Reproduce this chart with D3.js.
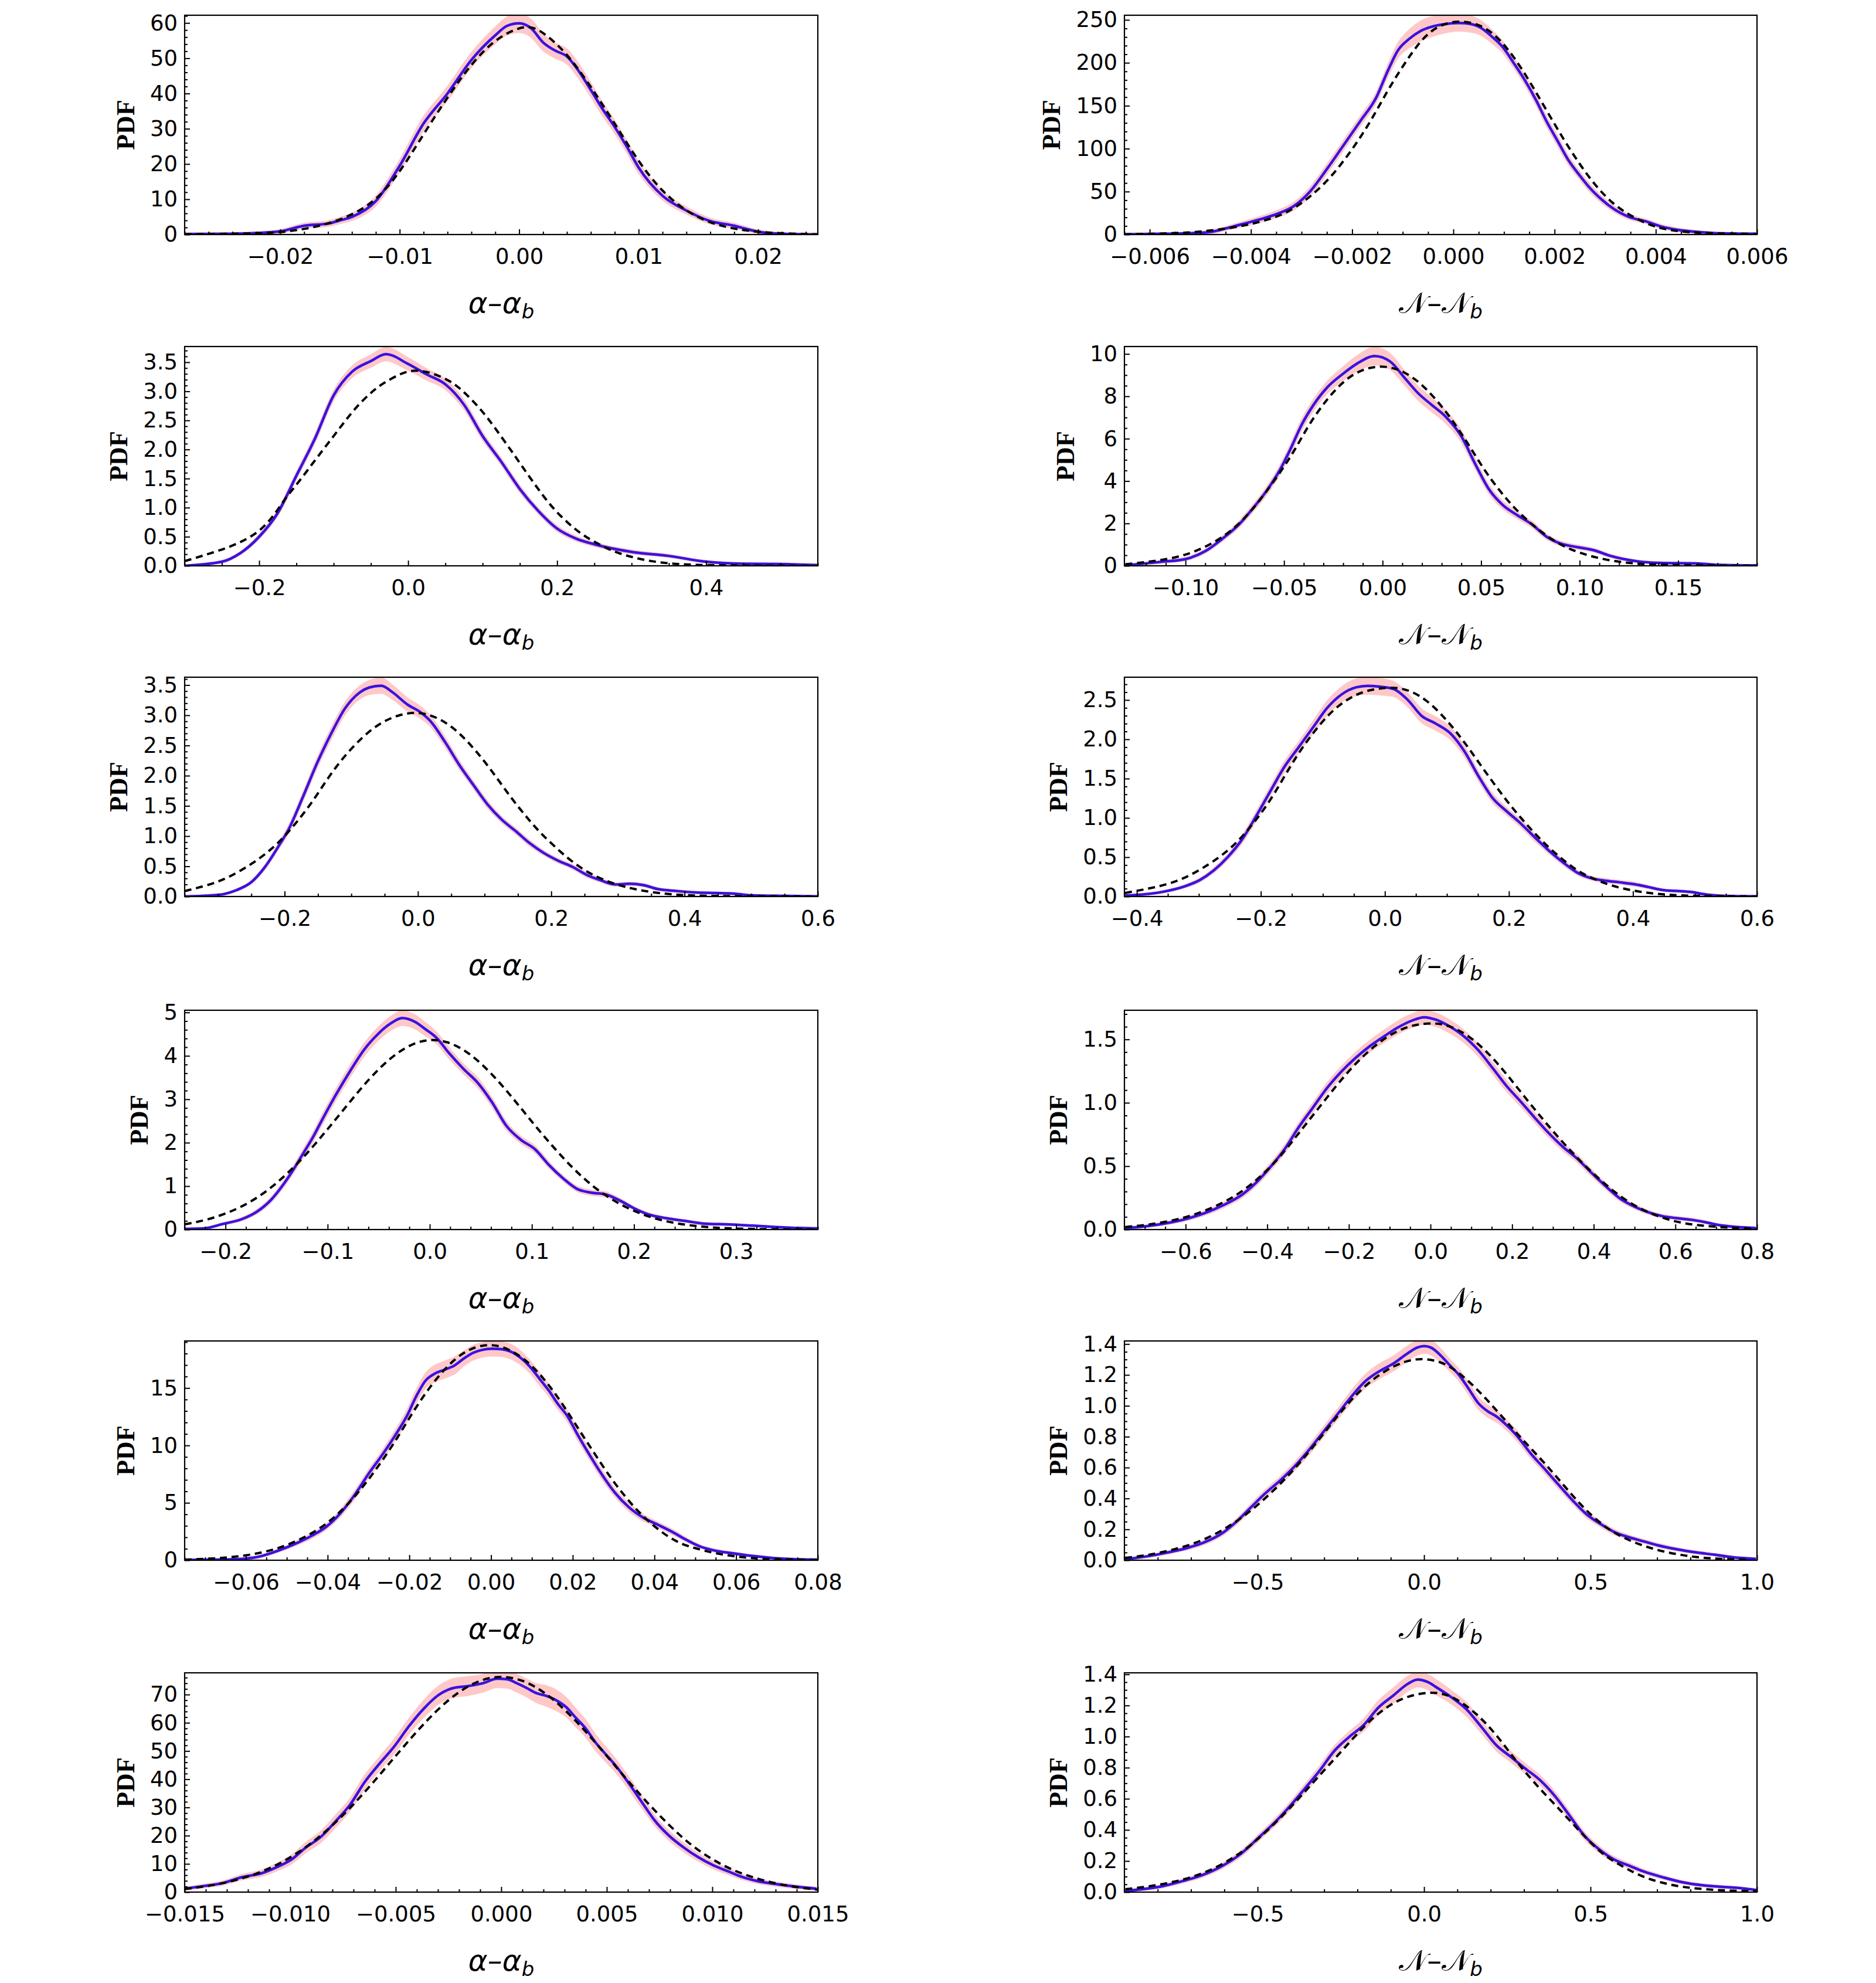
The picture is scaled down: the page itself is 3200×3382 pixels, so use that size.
<!DOCTYPE html>
<html><head><meta charset="utf-8">
<script src="https://cdn.jsdelivr.net/npm/d3@7"></script>
<style>body{margin:0;background:#fff}</style>
</head><body>
<svg id="chart" width="3200" height="3382" xmlns="http://www.w3.org/2000/svg"></svg>
<script>
// ---------- DATA: [x, pdf, band half-width] for KDE; [x, value] for dashed Gaussian ----------
const pdf1L=[[-0.028,0.1,0.3],[-0.024,0.2,0.3],[-0.022,0.4,0.3],[-0.020,0.9,0.4],[-0.018,2.5,0.6],[-0.016,3.1,0.7],[-0.015,4.0,0.8],[-0.014,5.0,0.9],[-0.012,9.5,1.2],[-0.010,19.5,1.5],[-0.008,31.5,1.8],[-0.006,40,1.8],[-0.004,49.5,1.9],[-0.002,56.5,2.2],[-0.001,59.2,2.4],[0,59.9,2.5],[0.001,58.5,2.4],[0.002,54.5,2.2],[0.003,52.2,2.0],[0.004,50.5,2.0],[0.005,46.3,1.9],[0.006,41,1.8],[0.007,35.5,1.7],[0.008,30.5,1.6],[0.009,25,1.5],[0.010,19,1.4],[0.012,11,1.1],[0.014,6.8,0.9],[0.016,3.8,0.7],[0.018,2.5,0.6],[0.019,1.6,0.5],[0.020,0.8,0.4],[0.022,0.2,0.3],[0.025,0,0.3]];
const gauss1L=[[-0.028,0.05],[-0.022,0.3],[-0.020,0.6],[-0.018,1.5],[-0.016,3.0],[-0.014,5.5],[-0.012,9.5],[-0.010,17.5],[-0.008,28.5],[-0.006,39],[-0.004,48.5],[-0.002,55.5],[0,58.8],[0.001,59],[0.002,57.5],[0.004,51.5],[0.006,42],[0.008,31.5],[0.010,20.5],[0.012,12],[0.014,6.5],[0.016,3.2],[0.018,1.6],[0.020,0.7],[0.022,0.3],[0.025,0.05]];

const pdf1R=[[-0.0065,0.25,1],[-0.00575,0.8,1],[-0.0052,1.5,1],[-0.00477,3.3,1.5],[-0.00445,7.8,2],[-0.00412,12.9,2.5],[-0.0038,18,3],[-0.00347,24.3,3.5],[-0.00315,33.2,4],[-0.00282,50.9,4.5],[-0.0025,76.2,5],[-0.00217,104,5],[-0.00184,132,5],[-0.00152,160,5],[-0.0013,190,6],[-0.00109,215,8],[-0.00087,228,10],[-0.00065,237,11],[-0.00043,242,11],[-0.00022,244.6,10],[0.00011,246.3,9],[0.00033,245.3,9],[0.00054,240.8,8],[0.00076,230.6,7],[0.00098,218,6],[0.00119,200,5],[0.00141,180,5],[0.00163,157,5],[0.00184,132,5],[0.00206,109,5],[0.00228,86,4.5],[0.0025,68.6,4],[0.00271,53.4,4],[0.00293,40.8,3.5],[0.00315,30.6,3],[0.00347,20.5,2.5],[0.0038,15.4,2],[0.00412,9.1,2],[0.00445,5.3,1.5],[0.00488,2.8,1],[0.00532,1.3,1],[0.006,0.8,1]];
const gauss1R=[[-0.0065,0.25],[-0.00575,1],[-0.0052,2.3],[-0.00467,5.3],[-0.00412,10.4],[-0.00369,16.7],[-0.00326,25.6],[-0.00282,44],[-0.00239,68],[-0.00195,103],[-0.00163,132],[-0.0013,168],[-0.00098,198],[-0.00065,226],[-0.00033,243],[0.00011,250],[0.00054,244.6],[0.00087,230.6],[0.00119,207.8],[0.00152,177.5],[0.00184,144.6],[0.00217,111.6],[0.0025,81.3],[0.00282,55.9],[0.00315,35.7],[0.00347,23],[0.0038,12.9],[0.00412,6.6],[0.00456,2.8],[0.0051,1.3],[0.006,0.5]];

const pdf2L=[[-0.30,0,0.01],[-0.25,0.07,0.015],[-0.225,0.22,0.02],[-0.20,0.5,0.03],[-0.175,0.91,0.04],[-0.15,1.55,0.05],[-0.125,2.19,0.06],[-0.10,2.93,0.07],[-0.075,3.34,0.09],[-0.05,3.52,0.1],[-0.03,3.64,0.11],[0.0,3.47,0.1],[0.025,3.29,0.09],[0.05,3.12,0.08],[0.075,2.77,0.07],[0.10,2.23,0.06],[0.125,1.79,0.05],[0.15,1.32,0.05],[0.175,0.94,0.04],[0.20,0.64,0.04],[0.225,0.47,0.035],[0.25,0.37,0.03],[0.30,0.24,0.025],[0.35,0.17,0.02],[0.40,0.07,0.015],[0.45,0.035,0.01],[0.50,0.03,0.01],[0.55,0.01,0.01]];
const gauss2L=[[-0.30,0.08],[-0.256,0.25],[-0.224,0.40],[-0.196,0.62],[-0.177,0.92],[-0.164,1.18],[-0.148,1.42],[-0.126,1.80],[-0.103,2.18],[-0.084,2.50],[-0.069,2.74],[-0.050,2.98],[-0.034,3.14],[-0.008,3.32],[0.008,3.37],[0.030,3.33],[0.055,3.19],[0.068,3.07],[0.087,2.84],[0.106,2.56],[0.125,2.22],[0.144,1.88],[0.160,1.58],[0.179,1.24],[0.195,0.98],[0.214,0.74],[0.233,0.54],[0.249,0.42],[0.268,0.29],[0.284,0.21],[0.303,0.14],[0.325,0.08],[0.347,0.045],[0.373,0.02],[0.42,0.005],[0.55,0]];

const pdf2R=[[-0.131,0.02,0.02],[-0.112,0.19,0.05],[-0.100,0.32,0.06],[-0.090,0.69,0.08],[-0.081,1.3,0.1],[-0.073,1.94,0.12],[-0.066,2.69,0.14],[-0.059,3.52,0.16],[-0.052,4.54,0.18],[-0.047,5.46,0.2],[-0.041,6.67,0.22],[-0.035,7.6,0.24],[-0.028,8.43,0.26],[-0.020,9.07,0.3],[-0.013,9.54,0.35],[-0.004,9.9,0.4],[0.004,9.63,0.35],[0.011,8.89,0.3],[0.018,8.15,0.3],[0.025,7.59,0.3],[0.032,7.04,0.28],[0.040,6.11,0.24],[0.047,4.81,0.2],[0.054,3.61,0.18],[0.061,2.87,0.16],[0.068,2.41,0.14],[0.076,1.94,0.12],[0.083,1.39,0.1],[0.090,1.06,0.09],[0.099,0.88,0.08],[0.107,0.74,0.07],[0.116,0.46,0.06],[0.128,0.23,0.04],[0.140,0.14,0.03],[0.160,0.11,0.03],[0.169,0.05,0.02],[0.190,0.02,0.02]];
const gauss2R=[[-0.1305,0.07],[-0.1118,0.26],[-0.0998,0.5],[-0.0877,0.97],[-0.0757,1.68],[-0.0637,2.88],[-0.0517,4.44],[-0.0445,5.46],[-0.0373,6.7],[-0.0276,7.96],[-0.018,8.89],[-0.0084,9.35],[0.0012,9.45],[0.0108,9.2],[0.0204,8.55],[0.030,7.55],[0.0373,6.62],[0.0445,5.6],[0.0517,4.5],[0.0589,3.6],[0.0661,2.8],[0.0733,2.15],[0.0805,1.6],[0.0877,1.13],[0.095,0.78],[0.1046,0.47],[0.1166,0.22],[0.1286,0.1],[0.1406,0.04],[0.19,0]];

const pdf3L=[[-0.350,0,0.01],[-0.300,0.026,0.01],[-0.272,0.107,0.015],[-0.250,0.237,0.02],[-0.229,0.496,0.03],[-0.208,0.853,0.04],[-0.194,1.112,0.05],[-0.172,1.664,0.06],[-0.151,2.216,0.07],[-0.130,2.70,0.08],[-0.109,3.12,0.09],[-0.087,3.38,0.1],[-0.073,3.46,0.11],[-0.055,3.49,0.12],[-0.038,3.38,0.11],[-0.016,3.18,0.1],[0.005,3.04,0.09],[0.019,2.90,0.08],[0.040,2.57,0.07],[0.062,2.18,0.06],[0.083,1.85,0.05],[0.104,1.53,0.05],[0.126,1.27,0.04],[0.147,1.08,0.04],[0.168,0.88,0.04],[0.189,0.72,0.03],[0.211,0.59,0.03],[0.232,0.49,0.03],[0.253,0.36,0.03],[0.274,0.27,0.025],[0.296,0.20,0.02],[0.317,0.21,0.02],[0.338,0.19,0.02],[0.360,0.123,0.015],[0.388,0.091,0.015],[0.416,0.068,0.01],[0.445,0.058,0.01],[0.473,0.049,0.01],[0.501,0.02,0.01],[0.551,0.01,0.01],[0.599,0.003,0.01]];
const gauss3L=[[-0.350,0.09],[-0.314,0.19],[-0.286,0.30],[-0.250,0.53],[-0.222,0.76],[-0.201,0.98],[-0.179,1.27],[-0.158,1.57],[-0.137,1.93],[-0.116,2.25],[-0.094,2.52],[-0.073,2.74],[-0.052,2.90],[-0.030,3.0],[-0.009,3.05],[0.012,3.03],[0.033,2.94],[0.055,2.78],[0.076,2.55],[0.097,2.28],[0.118,1.97],[0.140,1.63],[0.161,1.34],[0.182,1.07],[0.204,0.84],[0.225,0.63],[0.246,0.46],[0.267,0.33],[0.289,0.23],[0.310,0.16],[0.338,0.09],[0.374,0.04],[0.402,0.02],[0.445,0.006],[0.6,0]];

const pdf3R=[[-0.419,0.012,0.01],[-0.360,0.057,0.01],[-0.322,0.132,0.015],[-0.299,0.207,0.02],[-0.276,0.332,0.025],[-0.253,0.506,0.03],[-0.230,0.73,0.04],[-0.207,1.03,0.05],[-0.184,1.35,0.05],[-0.162,1.65,0.06],[-0.139,1.90,0.06],[-0.116,2.15,0.07],[-0.093,2.40,0.08],[-0.070,2.57,0.09],[-0.047,2.66,0.1],[-0.028,2.68,0.1],[-0.009,2.67,0.1],[0.014,2.64,0.09],[0.037,2.50,0.08],[0.059,2.30,0.08],[0.082,2.20,0.08],[0.105,2.08,0.07],[0.128,1.85,0.06],[0.151,1.53,0.05],[0.174,1.25,0.05],[0.197,1.08,0.04],[0.219,0.93,0.04],[0.242,0.75,0.04],[0.265,0.58,0.03],[0.288,0.43,0.03],[0.311,0.30,0.025],[0.334,0.23,0.02],[0.357,0.20,0.02],[0.379,0.18,0.02],[0.402,0.157,0.02],[0.425,0.12,0.015],[0.448,0.082,0.01],[0.471,0.07,0.01],[0.494,0.057,0.01],[0.517,0.027,0.01],[0.547,0.007,0.01],[0.599,0.002,0.01]];
const gauss3R=[[-0.419,0.045],[-0.360,0.13],[-0.322,0.23],[-0.283,0.41],[-0.253,0.58],[-0.230,0.76],[-0.207,0.98],[-0.184,1.23],[-0.162,1.53],[-0.139,1.83],[-0.116,2.08],[-0.093,2.30],[-0.070,2.46],[-0.047,2.57],[-0.024,2.63],[-0.002,2.655],[0.021,2.66],[0.044,2.61],[0.067,2.50],[0.090,2.33],[0.113,2.12],[0.136,1.88],[0.158,1.63],[0.181,1.38],[0.204,1.14],[0.227,0.93],[0.250,0.73],[0.273,0.56],[0.296,0.41],[0.318,0.29],[0.341,0.21],[0.364,0.14],[0.395,0.08],[0.425,0.045],[0.456,0.02],[0.501,0.007],[0.6,0]];

const pdf4L=[[-0.240,0.014,0.01],[-0.221,0.027,0.01],[-0.203,0.127,0.02],[-0.184,0.24,0.03],[-0.170,0.40,0.04],[-0.156,0.67,0.05],[-0.143,1.05,0.06],[-0.133,1.4,0.07],[-0.124,1.75,0.08],[-0.115,2.1,0.09],[-0.106,2.5,0.1],[-0.092,3.1,0.11],[-0.078,3.65,0.12],[-0.064,4.15,0.13],[-0.050,4.52,0.14],[-0.038,4.75,0.15],[-0.027,4.87,0.16],[-0.015,4.79,0.15],[-0.004,4.61,0.14],[0.006,4.43,0.12],[0.019,4.06,0.11],[0.033,3.70,0.1],[0.047,3.38,0.1],[0.061,2.93,0.09],[0.075,2.39,0.08],[0.089,2.07,0.07],[0.103,1.85,0.07],[0.117,1.48,0.06],[0.131,1.17,0.05],[0.144,0.94,0.05],[0.158,0.85,0.05],[0.172,0.81,0.05],[0.186,0.67,0.04],[0.200,0.49,0.03],[0.214,0.35,0.03],[0.232,0.26,0.02],[0.251,0.195,0.02],[0.269,0.136,0.02],[0.293,0.118,0.015],[0.316,0.09,0.01],[0.339,0.059,0.01],[0.362,0.036,0.01],[0.380,0.027,0.01]];
const gauss4L=[[-0.24,0.12],[-0.22,0.21],[-0.20,0.36],[-0.18,0.57],[-0.16,0.87],[-0.14,1.27],[-0.12,1.75],[-0.10,2.31],[-0.08,2.89],[-0.06,3.46],[-0.04,3.93],[-0.02,4.26],[0.0,4.40],[0.02,4.32],[0.04,4.05],[0.06,3.61],[0.08,3.07],[0.10,2.48],[0.12,1.92],[0.14,1.41],[0.16,0.98],[0.18,0.66],[0.20,0.42],[0.22,0.25],[0.24,0.145],[0.26,0.08],[0.28,0.04],[0.30,0.02],[0.34,0.004],[0.38,0.001]];

const pdf4R=[[-0.748,0.012,0.005],[-0.692,0.028,0.007],[-0.646,0.051,0.01],[-0.600,0.083,0.012],[-0.554,0.129,0.015],[-0.508,0.192,0.018],[-0.461,0.277,0.02],[-0.427,0.371,0.022],[-0.392,0.495,0.025],[-0.357,0.636,0.027],[-0.323,0.807,0.03],[-0.288,0.963,0.032],[-0.253,1.119,0.035],[-0.219,1.244,0.037],[-0.184,1.353,0.04],[-0.149,1.446,0.042],[-0.114,1.524,0.045],[-0.080,1.594,0.048],[-0.045,1.649,0.05],[-0.016,1.675,0.052],[0.013,1.656,0.05],[0.047,1.602,0.048],[0.082,1.524,0.045],[0.117,1.415,0.042],[0.152,1.275,0.04],[0.186,1.134,0.037],[0.221,1.010,0.035],[0.255,0.884,0.032],[0.290,0.760,0.03],[0.325,0.651,0.028],[0.360,0.558,0.025],[0.394,0.449,0.022],[0.429,0.343,0.02],[0.464,0.246,0.018],[0.498,0.184,0.015],[0.533,0.137,0.012],[0.568,0.106,0.01],[0.603,0.090,0.01],[0.637,0.078,0.01],[0.672,0.059,0.008],[0.706,0.036,0.006],[0.753,0.020,0.005],[0.797,0.012,0.005]];
const gauss4R=[[-0.748,0.02],[-0.692,0.036],[-0.623,0.075],[-0.565,0.13],[-0.508,0.21],[-0.461,0.30],[-0.415,0.42],[-0.369,0.57],[-0.323,0.76],[-0.276,0.95],[-0.230,1.14],[-0.184,1.31],[-0.138,1.45],[-0.091,1.555],[-0.045,1.615],[0.007,1.633],[0.047,1.61],[0.094,1.53],[0.140,1.40],[0.186,1.23],[0.232,1.04],[0.279,0.855],[0.325,0.683],[0.371,0.527],[0.417,0.386],[0.464,0.262],[0.510,0.168],[0.556,0.106],[0.602,0.059],[0.649,0.036],[0.706,0.02],[0.764,0.009],[0.8,0.005]];

const pdf5L=[[-0.0750,0.03,0.05],[-0.0669,0.05,0.05],[-0.0611,0.12,0.06],[-0.0565,0.34,0.08],[-0.0519,0.86,0.1],[-0.0472,1.55,0.15],[-0.0438,2.15,0.2],[-0.0403,2.93,0.2],[-0.0368,4.13,0.25],[-0.0334,5.68,0.3],[-0.0299,7.57,0.3],[-0.0264,9.29,0.35],[-0.0229,11.19,0.4],[-0.0206,12.56,0.45],[-0.0183,14.29,0.5],[-0.0160,15.66,0.6],[-0.0137,16.27,0.7],[-0.0113,16.61,0.7],[-0.0090,16.95,0.7],[-0.0067,17.56,0.6],[-0.0044,18.07,0.6],[-0.0021,18.33,0.6],[0.0002,18.42,0.6],[0.0025,18.38,0.6],[0.0049,18.16,0.6],[0.0072,17.64,0.55],[0.0095,16.87,0.5],[0.0118,15.84,0.5],[0.0141,14.80,0.45],[0.0164,13.60,0.4],[0.0188,12.5,0.4],[0.0211,11.0,0.4],[0.0234,9.6,0.35],[0.0269,7.6,0.35],[0.0303,5.9,0.3],[0.0338,4.6,0.3],[0.0373,3.7,0.25],[0.0408,3.1,0.2],[0.0442,2.5,0.2],[0.0477,1.8,0.15],[0.0512,1.2,0.1],[0.0547,0.85,0.1],[0.0593,0.60,0.08],[0.0639,0.38,0.06],[0.0686,0.21,0.05],[0.0744,0.09,0.05],[0.0799,0.05,0.05]];
const gauss5L=[[-0.0750,0.05],[-0.0681,0.14],[-0.0623,0.3],[-0.0565,0.62],[-0.0519,1.05],[-0.0472,1.72],[-0.0426,2.58],[-0.0380,3.79],[-0.0334,5.51],[-0.0299,7.06],[-0.0264,8.78],[-0.0229,10.67],[-0.0195,12.7],[-0.0160,14.6],[-0.0125,16.2],[-0.0090,17.5],[-0.0056,18.35],[-0.0021,18.75],[0.0014,18.75],[0.0049,18.3],[0.0083,17.5],[0.0118,16.3],[0.0153,14.75],[0.0188,12.9],[0.0222,11.0],[0.0257,9.1],[0.0292,7.2],[0.0327,5.6],[0.0361,4.2],[0.0396,3.05],[0.0431,2.1],[0.0466,1.4],[0.0500,1.05],[0.0547,0.6],[0.0605,0.28],[0.0662,0.12],[0.0732,0.05],[0.08,0.02]];

const pdf5R=[[-0.898,0.006,0.005],[-0.830,0.026,0.006],[-0.773,0.049,0.008],[-0.716,0.077,0.01],[-0.660,0.116,0.012],[-0.603,0.180,0.014],[-0.560,0.257,0.016],[-0.518,0.347,0.018],[-0.475,0.437,0.02],[-0.433,0.515,0.022],[-0.390,0.605,0.024],[-0.348,0.708,0.026],[-0.305,0.824,0.028],[-0.262,0.940,0.03],[-0.220,1.055,0.035],[-0.177,1.158,0.04],[-0.135,1.223,0.045],[-0.092,1.274,0.045],[-0.050,1.339,0.045],[-0.021,1.377,0.045],[0.000,1.387,0.045],[0.021,1.377,0.045],[0.050,1.326,0.04],[0.078,1.261,0.035],[0.106,1.197,0.035],[0.135,1.107,0.035],[0.163,1.017,0.035],[0.191,0.965,0.035],[0.220,0.927,0.032],[0.248,0.875,0.03],[0.277,0.811,0.028],[0.319,0.695,0.026],[0.362,0.592,0.024],[0.404,0.489,0.022],[0.447,0.386,0.02],[0.489,0.296,0.018],[0.532,0.232,0.016],[0.574,0.180,0.014],[0.617,0.148,0.012],[0.660,0.122,0.01],[0.702,0.097,0.01],[0.759,0.071,0.008],[0.816,0.051,0.007],[0.872,0.036,0.006],[0.929,0.019,0.005],[0.997,0.009,0.005]];
const gauss5R=[[-0.898,0.015],[-0.830,0.032],[-0.745,0.071],[-0.660,0.129],[-0.574,0.232],[-0.504,0.347],[-0.433,0.489],[-0.362,0.656],[-0.291,0.849],[-0.234,1.004],[-0.177,1.133],[-0.121,1.223],[-0.064,1.287],[-0.007,1.310],[0.050,1.287],[0.092,1.236],[0.135,1.158],[0.177,1.068],[0.220,0.965],[0.262,0.862],[0.305,0.759],[0.362,0.631],[0.418,0.489],[0.475,0.347],[0.532,0.232],[0.589,0.154],[0.645,0.103],[0.702,0.064],[0.759,0.039],[0.816,0.019],[0.887,0.009],[0.972,0.003]];

const pdf6L=[[-0.01502,1.2,0.4],[-0.01414,2.1,0.5],[-0.01321,3.2,0.6],[-0.01228,5.3,0.8],[-0.01135,6.7,1.0],[-0.01065,8.8,1.2],[-0.00995,11.5,1.4],[-0.00926,15.8,1.6],[-0.00856,19.5,1.8],[-0.00786,25,2],[-0.00716,31,2],[-0.00647,39,2.2],[-0.00577,45.5,2.2],[-0.00507,51.6,2.4],[-0.00437,58.8,2.5],[-0.00367,65,2.8],[-0.00298,69.8,3],[-0.00228,72.3,3.2],[-0.00158,73,3.2],[-0.00088,74,3],[-0.00019,75.6,3],[0.00028,75.4,3],[0.00074,74,3],[0.00121,72.3,3],[0.00167,70.5,3.2],[0.00214,69.5,3.5],[0.0026,68,3.5],[0.00307,65.6,3.2],[0.00353,61.8,3],[0.004,58,2.8],[0.00447,53,2.6],[0.00493,49,2.4],[0.0054,45,2.2],[0.00586,40.5,2],[0.00633,35.5,2],[0.00679,30.5,1.8],[0.00726,25.5,1.6],[0.00795,20,1.5],[0.00865,15.8,1.4],[0.00935,12.3,1.2],[0.01005,9.5,1.1],[0.01074,7.4,1],[0.01144,5.3,0.8],[0.01214,3.9,0.7],[0.01307,2.8,0.6],[0.014,1.9,0.5],[0.01493,1.2,0.4]];
const gauss6L=[[-0.015,1.1],[-0.014,2.0],[-0.013,3.4],[-0.012,5.4],[-0.011,8.2],[-0.010,12.1],[-0.009,17.2],[-0.008,23.5],[-0.007,31.0],[-0.006,39.4],[-0.005,48.3],[-0.004,57.0],[-0.003,64.9],[-0.002,71.2],[-0.001,75.3],[0,76.7],[0.001,75.3],[0.002,71.2],[0.003,64.9],[0.004,57.0],[0.005,48.3],[0.006,39.4],[0.007,31.0],[0.008,23.3],[0.009,16.5],[0.010,11.5],[0.011,7.6],[0.012,5.0],[0.013,3.0],[0.014,1.7],[0.015,0.9]];

const pdf6R=[[-0.897,0.009,0.005],[-0.845,0.019,0.006],[-0.786,0.038,0.008],[-0.727,0.070,0.01],[-0.668,0.108,0.012],[-0.609,0.165,0.014],[-0.550,0.247,0.016],[-0.491,0.362,0.018],[-0.447,0.451,0.02],[-0.403,0.552,0.022],[-0.358,0.666,0.024],[-0.314,0.780,0.026],[-0.270,0.907,0.028],[-0.226,0.996,0.03],[-0.181,1.075,0.035],[-0.137,1.187,0.04],[-0.093,1.263,0.045],[-0.049,1.339,0.045],[-0.019,1.367,0.045],[0.010,1.352,0.045],[0.040,1.313,0.045],[0.084,1.250,0.04],[0.128,1.174,0.04],[0.173,1.060,0.035],[0.217,0.945,0.032],[0.261,0.869,0.03],[0.305,0.793,0.028],[0.350,0.717,0.026],[0.394,0.615,0.024],[0.438,0.489,0.022],[0.482,0.362,0.02],[0.527,0.273,0.018],[0.571,0.209,0.016],[0.615,0.171,0.014],[0.659,0.133,0.012],[0.718,0.095,0.01],[0.777,0.063,0.008],[0.836,0.044,0.007],[0.895,0.034,0.006],[0.954,0.025,0.005],[0.998,0.013,0.005]];
const gauss6R=[[-0.897,0.019],[-0.816,0.038],[-0.727,0.076],[-0.653,0.127],[-0.580,0.209],[-0.521,0.298],[-0.462,0.412],[-0.403,0.539],[-0.344,0.679],[-0.285,0.819],[-0.226,0.958],[-0.167,1.098],[-0.108,1.199],[-0.049,1.263],[0.025,1.291],[0.084,1.263],[0.143,1.174],[0.187,1.085],[0.232,0.971],[0.276,0.844],[0.320,0.730],[0.364,0.628],[0.409,0.527],[0.453,0.425],[0.497,0.324],[0.541,0.235],[0.600,0.159],[0.659,0.095],[0.718,0.057],[0.777,0.032],[0.851,0.016],[0.925,0.009],[0.999,0.006]];

// ---------- tick values ----------
const xt1L=[-0.02,-0.01,0,0.01,0.02], yt1L=[0,10,20,30,40,50,60];
const xt1R=[-0.006,-0.004,-0.002,0,0.002,0.004,0.006], yt1R=[0,50,100,150,200,250];
const xt2L=[-0.2,0,0.2,0.4], yt2L=[0,0.5,1,1.5,2,2.5,3,3.5];
const xt2R=[-0.1,-0.05,0,0.05,0.1,0.15], yt2R=[0,2,4,6,8,10];
const xt3L=[-0.2,0,0.2,0.4,0.6], yt3L=[0,0.5,1,1.5,2,2.5,3,3.5];
const xt3R=[-0.4,-0.2,0,0.2,0.4,0.6], yt3R=[0,0.5,1,1.5,2,2.5];
const xt4L=[-0.2,-0.1,0,0.1,0.2,0.3], yt4L=[0,1,2,3,4,5];
const xt4R=[-0.6,-0.4,-0.2,0,0.2,0.4,0.6,0.8], yt4R=[0,0.5,1,1.5];
const xt5L=[-0.06,-0.04,-0.02,0,0.02,0.04,0.06,0.08], yt5L=[0,5,10,15];
const xt5R=[-0.5,0,0.5,1], yt5R=[0,0.2,0.4,0.6,0.8,1,1.2,1.4];
const xt6L=[-0.015,-0.01,-0.005,0,0.005,0.01,0.015], yt6L=[0,10,20,30,40,50,60,70];
const xt6R=[-0.5,0,0.5,1], yt6R=[0,0.2,0.4,0.6,0.8,1,1.2,1.4];

const axisTitles=["α–α","𝒩–𝒩"]; const titleSub="b"; const yTitle="PDF";

// ---------- panel definitions ----------
const panels=[
 {r:0,c:0,pdf:pdf1L,g:gauss1L,xd:[-0.028,0.025],yd:[0,62.2],xt:xt1L,xm:0.002,xf:".2f",yt:yt1L,ym:2,yf:"d"},
 {r:0,c:1,pdf:pdf1R,g:gauss1R,xd:[-0.0065,0.006],yd:[0,255.4],xt:xt1R,xm:0.0005,xf:".3f",yt:yt1R,ym:10,yf:"d"},
 {r:1,c:0,pdf:pdf2L,g:gauss2L,xd:[-0.30,0.55],yd:[0,3.77],xt:xt2L,xm:0.05,xf:".1f",yt:yt2L,ym:0.1,yf:".1f"},
 {r:1,c:1,pdf:pdf2R,g:gauss2R,xd:[-0.131,0.19],yd:[0,10.35],xt:xt2R,xm:0.01,xf:".2f",yt:yt2R,ym:0.5,yf:"d"},
 {r:2,c:0,pdf:pdf3L,g:gauss3L,xd:[-0.35,0.6],yd:[0,3.63],xt:xt3L,xm:0.05,xf:".1f",yt:yt3L,ym:0.1,yf:".1f"},
 {r:2,c:1,pdf:pdf3R,g:gauss3R,xd:[-0.42,0.6],yd:[0,2.79],xt:xt3R,xm:0.05,xf:".1f",yt:yt3R,ym:0.1,yf:".1f"},
 {r:3,c:0,pdf:pdf4L,g:gauss4L,xd:[-0.24,0.38],yd:[0,5.05],xt:xt4L,xm:0.02,xf:".1f",yt:yt4L,ym:0.2,yf:"d"},
 {r:3,c:1,pdf:pdf4R,g:gauss4R,xd:[-0.75,0.8],yd:[0,1.73],xt:xt4R,xm:0.05,xf:".1f",yt:yt4R,ym:0.1,yf:".1f"},
 {r:4,c:0,pdf:pdf5L,g:gauss5L,xd:[-0.075,0.08],yd:[0,19.1],xt:xt5L,xm:0.005,xf:".2f",yt:yt5L,ym:1,yf:"d"},
 {r:4,c:1,pdf:pdf5R,g:gauss5R,xd:[-0.9,1.0],yd:[0,1.42],xt:xt5R,xm:0.1,xf:".1f",yt:yt5R,ym:0.05,yf:".1f"},
 {r:5,c:0,pdf:pdf6L,g:gauss6L,xd:[-0.015,0.015],yd:[0,77.7],xt:xt6L,xm:0.001,xf:".3f",yt:yt6L,ym:2,yf:"d"},
 {r:5,c:1,pdf:pdf6R,g:gauss6R,xd:[-0.9,1.0],yd:[0,1.41],xt:xt6R,xm:0.1,xf:".1f",yt:yt6R,ym:0.05,yf:".1f"}
];

// ---------- layout ----------
const COLS=[[315,1395],[1918,2997]];
const ROW_TOP=[26,591,1155,1723,2287,2853];
const PH=374;
const TICKFONT="DejaVu Sans, Liberation Sans, sans-serif";

const svg=d3.select("#chart");
svg.append("rect").attr("width",3200).attr("height",3382).attr("fill","#fff");

function minors(dom,step,majors){
  const out=[]; const k0=Math.ceil(dom[0]/step-1e-9), k1=Math.floor(dom[1]/step+1e-9);
  for(let k=k0;k<=k1;k++){const v=k*step; if(!majors.some(m=>Math.abs(m-v)<step*1e-3)) out.push(v);}
  return out;
}

panels.forEach((p,i)=>{
  const [x0,x1]=COLS[p.c]; const top=ROW_TOP[p.r], bot=top+PH;
  const x=d3.scaleLinear().domain(p.xd).range([x0,x1]);
  const y=d3.scaleLinear().domain(p.yd).range([bot,top]);
  const g=svg.append("g");
  const cid="clip"+i;
  g.append("clipPath").attr("id",cid).append("rect").attr("x",x0).attr("y",top).attr("width",x1-x0).attr("height",PH);
  const plot=g.append("g").attr("clip-path",`url(#${cid})`);

  plot.append("path").datum(p.pdf)
    .attr("d",d3.area().x(d=>x(d[0])).y0(d=>y(Math.max(0,d[1]-d[2]))).y1(d=>y(d[1]+d[2])).curve(d3.curveMonotoneX))
    .attr("fill","#ffc8c8").attr("stroke","#ffc8c8").attr("stroke-width",3);
  plot.append("path").datum(p.pdf)
    .attr("d",d3.line().x(d=>x(d[0])).y(d=>y(d[1])).curve(d3.curveMonotoneX))
    .attr("fill","none").attr("stroke","#3a12e0").attr("stroke-width",4.5).attr("stroke-linejoin","round");
  plot.append("path").datum(p.g)
    .attr("d",d3.line().x(d=>x(d[0])).y(d=>y(d[1])).curve(d3.curveBasis))
    .attr("fill","none").attr("stroke","#000").attr("stroke-width",4).attr("stroke-dasharray","12,8");

  // frame
  g.append("rect").attr("x",x0).attr("y",top).attr("width",x1-x0).attr("height",PH)
    .attr("fill","none").attr("stroke","#000").attr("stroke-width",2.2);

  // x axis (ticks inward)
  const xa=g.append("g").attr("transform",`translate(0,${bot})`)
    .call(d3.axisBottom(x).tickValues(p.xt).tickFormat(d3.format(p.xf)).tickSizeInner(-9).tickSizeOuter(0).tickPadding(24));
  const xmi=g.append("g").attr("transform",`translate(0,${bot})`)
    .call(d3.axisBottom(x).tickValues(minors(p.xd,p.xm,p.xt)).tickFormat("").tickSizeInner(-5).tickSizeOuter(0));
  // y axis
  const ya=g.append("g").attr("transform",`translate(${x0},0)`)
    .call(d3.axisLeft(y).tickValues(p.yt).tickFormat(d3.format(p.yf)).tickSizeInner(-9).tickSizeOuter(0).tickPadding(12));
  const ymi=g.append("g").attr("transform",`translate(${x0},0)`)
    .call(d3.axisLeft(y).tickValues(minors(p.yd,p.ym,p.yt)).tickFormat("").tickSizeInner(-5).tickSizeOuter(0));
  [xa,xmi,ya,ymi].forEach(a=>{
    a.select(".domain").remove();
    a.selectAll(".tick line").attr("stroke","#000").attr("stroke-width",2);
    a.selectAll("text").attr("font-family",TICKFONT).attr("font-size",37).attr("fill","#000");
  });

  // y title
  let minX=x0;
  ya.selectAll("text").each(function(){const b=this.getBBox(); minX=Math.min(minX,x0+b.x);});
  g.append("text").attr("transform",`translate(${minX-27},${(top+bot)/2}) rotate(-90)`)
    .attr("text-anchor","middle").attr("font-family","Liberation Serif, Times New Roman, serif")
    .attr("font-weight","bold").attr("font-size",44).attr("fill","#000").text(yTitle);

  // x title
  const t=g.append("text").attr("x",(x0+x1)/2).attr("y",bot+134).attr("text-anchor","middle")
    .attr("font-family","DejaVu Sans, sans-serif").attr("font-size",50).attr("fill","#000");
  if(p.c===0) t.attr("font-style","italic");
  t.append("tspan").text(axisTitles[p.c]);
  t.append("tspan").attr("dy",9).attr("font-size",34).attr("font-style","italic").text(titleSub);
});
</script>
</body></html>
